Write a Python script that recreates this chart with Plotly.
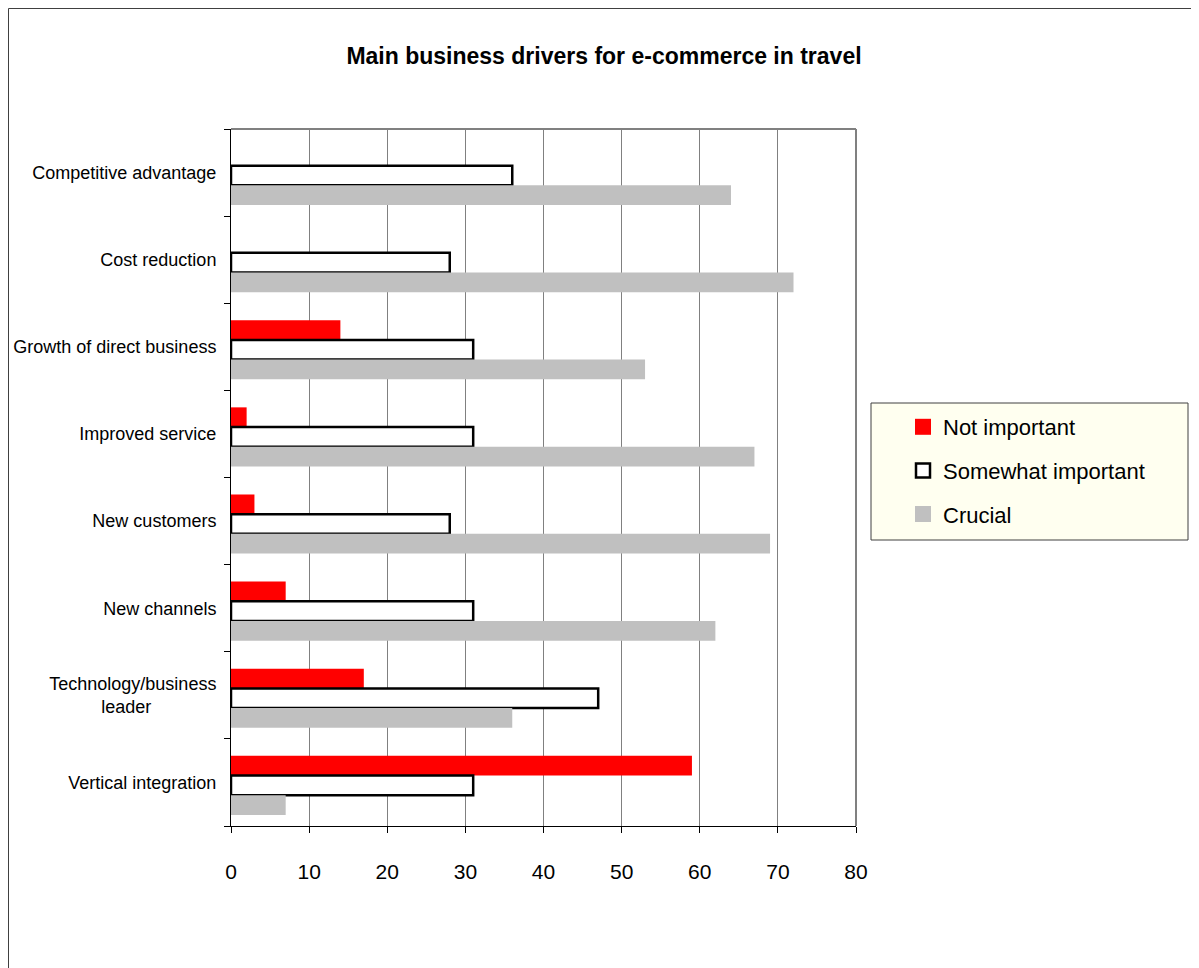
import plotly.graph_objects as go

categories = ["Competitive advantage", "Cost reduction", "Growth of direct business",
              "Improved service", "New customers", "New channels",
              "Technology/business leader", "Vertical integration"]
tick_labels = ["Competitive advantage", "Cost reduction", "Growth of direct business",
               "Improved service", "New customers", "New channels",
               "Technology/business<br>leader" + "\u00a0" * 13, "Vertical integration"]
not_important = [0, 0, 14, 2, 3, 7, 17, 59]
somewhat_important = [36, 28, 31, 31, 28, 31, 47, 31]
crucial = [64, 72, 53, 67, 69, 62, 36, 7]
series_names = ["Not important", "Somewhat important", "Crucial"]
x_ticks = [0, 10, 20, 30, 40, 50, 60, 70, 80]

FONT = "Liberation Sans, Arial, sans-serif"
RED, WHITE, GRAY = "#FF0000", "#FFFFFF", "#C0C0C0"

L, R, T, B = 223, 848, 121, 818
W, H = 1199, 968
pw, ph = R - L, B - T

BW = 0.226
styles = [
    dict(color=RED, line=dict(width=0)),
    dict(color=WHITE, line=dict(color="#000000", width=2.5)),
    dict(color=GRAY, line=dict(width=0)),
]
offsets = [-0.305, -0.079, 0.147]

fig = go.Figure()
for vals, name, st, off in zip([not_important, somewhat_important, crucial], series_names, styles, offsets):
    fig.add_trace(go.Bar(y=categories, x=vals, orientation="h", name=name,
                         marker=st, width=BW, offset=off, showlegend=False))

# legend-only entries with larger square swatches
leg_markers = [
    dict(symbol="square", size=16, color=RED, line=dict(width=0)),
    dict(symbol="square", size=14, color=WHITE, line=dict(color="#000000", width=2.5)),
    dict(symbol="square", size=16, color=GRAY, line=dict(width=0)),
]
for name, mk, grp in zip(series_names, leg_markers, ["a", "b", "c"]):
    fig.add_trace(go.Scatter(x=[None], y=[None], mode="markers", name=name,
                             marker=mk, legendgroup=grp, showlegend=True))

fig.update_layout(
    width=W, height=H,
    margin=dict(l=L, r=W - R, t=T, b=H - B, pad=0, autoexpand=False),
    paper_bgcolor="white", plot_bgcolor="white",
    font=dict(family=FONT, color="#000000"),
    title=dict(text="<b>Main business drivers for e-commerce in travel</b>",
               x=596 / W, xanchor="center", y=1 - 48 / H, yanchor="middle",
               font=dict(size=23, family=FONT)),
    legend=dict(x=(895 - L) / pw, xanchor="left", y=(B - 398) / ph, yanchor="top",
                bgcolor="rgba(0,0,0,0)", borderwidth=0,
                font=dict(size=22, family=FONT), traceorder="grouped", tracegroupgap=12,
                itemsizing="trace", itemwidth=30),
    showlegend=True,
)
fig.update_xaxes(range=[0, 80], tickvals=x_ticks, ticktext=[str(v) for v in x_ticks],
                 showgrid=True, gridcolor="#808080", gridwidth=1,
                 showline=True, linecolor="#000000", linewidth=1,
                 ticks="outside", ticklen=6, tickcolor="#000000",
                 tickfont=dict(size=21, family=FONT), ticklabelstandoff=21,
                 mirror=False, zeroline=False, automargin=False)
fig.update_yaxes(autorange="reversed", tickmode="array", tickvals=categories, ticktext=tick_labels,
                 tickson="boundaries", ticks="outside", ticklen=6, tickcolor="#000000",
                 showline=True, linecolor="#000000", linewidth=1, automargin=False,
                 showgrid=False, tickfont=dict(size=18, family=FONT), ticklabelstandoff=10)

# plot area top and right border (gray)
fig.add_shape(type="line", xref="paper", yref="paper", x0=0, x1=1, y0=1, y1=1,
              line=dict(color="#808080", width=2))
fig.add_shape(type="line", xref="paper", yref="paper", x0=1, x1=1, y0=0, y1=1,
              line=dict(color="#808080", width=2))
# legend box
fig.add_shape(type="rect", xref="paper", yref="paper",
              x0=(863 - L) / pw, x1=(1180 - L) / pw, y0=(B - 532) / ph, y1=(B - 395) / ph,
              fillcolor="#FFFFF0", line=dict(color="#404040", width=1), layer="below")
# outer chart border
fig.add_shape(type="rect", xref="paper", yref="paper",
              x0=(0.5 - L) / pw, x1=(W + 10 - L) / pw, y0=(B - (H + 10)) / ph, y1=(B - 0.5) / ph,
              line=dict(color="#404040", width=1), layer="below")

fig.write_html("out.html")
